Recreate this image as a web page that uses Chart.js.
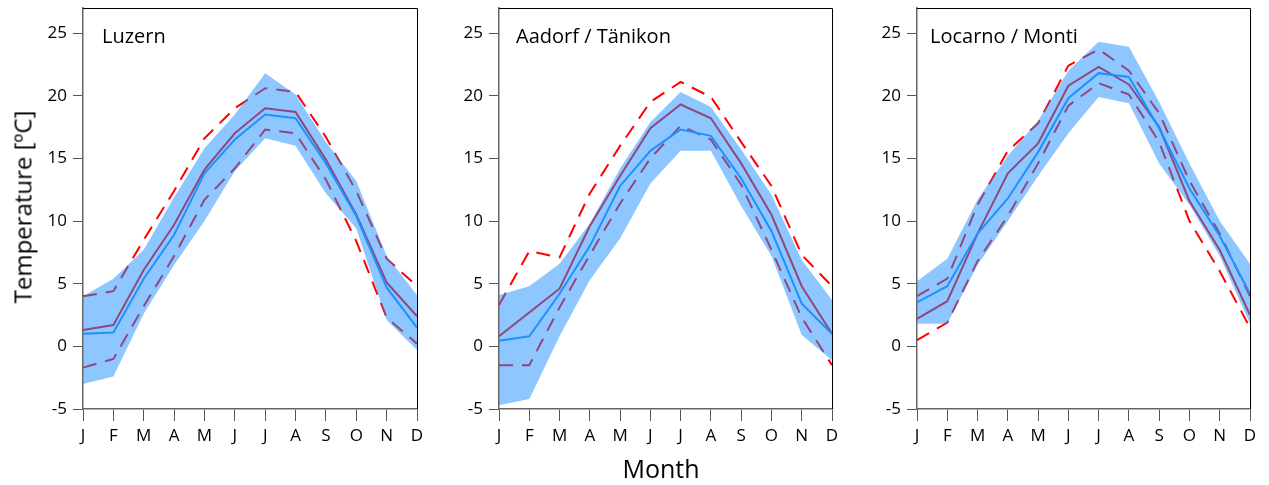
<!DOCTYPE html>
<html>
<head>
<meta charset="utf-8">
<script src="https://cdn.jsdelivr.net/npm/chart.js@4.4.1/dist/chart.umd.min.js"></script>
<style>
  body { margin: 0; background: #fff; width: 1269px; height: 485px; overflow: hidden; font-family: 'Open Sans', sans-serif; }
  canvas { position: absolute; top: 0; }
  #ylabel { position: absolute; left: 22px; top: 207px; transform: translate(-50%, -50%) rotate(-90deg); font-size: 24px; white-space: nowrap; color: #000; }
  #xlabel { position: absolute; left: 661px; top: 451px; transform: translateX(-50%); font-size: 25px; color: #000; }
</style>
</head>
<body>
<canvas id="c1" width="430" height="485" style="left:0px"></canvas>
<canvas id="c2" width="416" height="485" style="left:430px"></canvas>
<canvas id="c3" width="423" height="485" style="left:846px"></canvas>
<div id="ylabel">Temperature [ºC]</div>
<div id="xlabel">Month</div>
<script>
const months = ['J', 'F', 'M', 'A', 'M', 'J', 'J', 'A', 'S', 'O', 'N', 'D'];
const yTicks = [-5, 0, 5, 10, 15, 20, 25];

// Luzern
const luzObsMean = [1.0, 1.1, 5.4, 8.9, 13.8, 16.5, 18.5, 18.2, 14.6, 10.4, 4.7, 1.5];
const luzObsLo = [-3.0, -2.4, 2.6, 6.5, 10.0, 14.0, 16.6, 16.0, 12.2, 9.4, 2.1, -0.3];
const luzObsHi = [4.0, 5.4, 7.7, 11.9, 15.8, 18.5, 21.8, 20.1, 16.3, 13.2, 7.2, 4.1];
const luzModMean = [1.3, 1.7, 6.1, 9.7, 14.1, 17.0, 19.0, 18.7, 14.9, 10.5, 5.1, 2.4];
const luzModLo = [-1.7, -1.0, 3.2, 7.2, 11.7, 14.2, 17.3, 17.0, 13.3, 8.4, 2.3, 0.2];
const luzModHi = [4.0, 4.4, 8.5, 12.4, 16.6, 19.0, 20.6, 20.3, 16.7, 12.4, 7.0, 4.8];

// Aadorf / Tänikon
const aadObsMean = [0.45, 0.8, 4.2, 8.0, 12.8, 15.6, 17.3, 16.8, 13.4, 9.2, 3.4, 1.0];
const aadObsLo = [-4.7, -4.2, 0.8, 5.3, 8.6, 13.0, 15.6, 15.6, 11.2, 7.2, 0.9, -1.1];
const aadObsHi = [4.1, 4.8, 6.6, 9.8, 14.2, 17.9, 20.3, 19.1, 15.7, 12.1, 6.9, 3.7];
const aadModMean = [0.8, 2.7, 4.6, 9.6, 13.6, 17.4, 19.3, 18.2, 14.6, 10.5, 4.8, 1.0];
const aadModLo = [-1.5, -1.5, 3.1, 7.3, 11.4, 15.0, 17.6, 16.5, 12.9, 7.7, 2.3, -1.5];
const aadModHi = [3.3, 7.6, 7.1, 12.2, 16.0, 19.5, 21.1, 19.9, 16.3, 12.8, 7.3, 4.8];

// Locarno / Monti
const locObsMean = [3.5, 4.8, 9.0, 11.8, 15.5, 19.8, 21.8, 21.5, 17.4, 12.6, 8.8, 4.2];
const locObsLo = [1.8, 1.8, 6.5, 10.0, 13.6, 17.0, 19.9, 19.4, 14.6, 11.3, 7.2, 1.8];
const locObsHi = [5.2, 7.0, 11.7, 15.2, 18.0, 22.0, 24.3, 23.9, 19.5, 14.6, 10.0, 6.6];
const locModMean = [2.2, 3.6, 9.0, 13.8, 16.2, 20.8, 22.3, 20.9, 17.5, 11.6, 7.7, 2.5];
const locModLo = [0.5, 1.9, 6.8, 10.4, 14.6, 19.2, 21.0, 20.1, 16.3, 10.0, 6.0, 1.5];
const locModHi = [4.0, 5.4, 11.3, 15.6, 17.8, 22.4, 23.7, 22.0, 18.6, 13.2, 9.0, 4.0];

const FONT = 'Open Sans';
const BAND = 'rgba(30, 144, 255, 0.5)';
const OBS = '#1e90ff';
const MOD = '#ff0000';

// station name inside the plot plus the black top/right frame
const framePlugin = {
  id: 'frame',
  afterDraw(chart, args, opts) {
    const { ctx, chartArea: a } = chart;
    ctx.save();
    ctx.strokeStyle = '#000';
    ctx.lineWidth = 1;
    ctx.beginPath();
    ctx.moveTo(a.left, a.top + 0.5);
    ctx.lineTo(a.right + 0.5, a.top + 0.5);
    ctx.lineTo(a.right + 0.5, a.bottom);
    ctx.stroke();
    ctx.fillStyle = '#000';
    ctx.font = '20px "' + FONT + '"';
    ctx.textBaseline = 'alphabetic';
    ctx.fillText(opts.name, a.left + opts.dx, a.top + 35);
    ctx.restore();
  },
};

function makePanel(id, name, dx, axisW, padRight, obsMean, obsLo, obsHi, modMean, modLo, modHi) {
  const line = { pointRadius: 0, tension: 0, fill: false };
  new Chart(id, {
    type: 'line',
    data: {
      labels: months,
      datasets: [
        { ...line, data: obsMean, borderColor: OBS, borderWidth: 2, order: 0 },
        { ...line, data: obsHi, borderWidth: 0, borderColor: 'transparent', backgroundColor: BAND, fill: '+1', order: 1 },
        { ...line, data: obsLo, borderWidth: 0, borderColor: 'transparent', order: 1 },
        { ...line, data: modMean, borderColor: MOD, borderWidth: 2, order: 2 },
        { ...line, data: modHi, borderColor: MOD, borderWidth: 2, borderDash: [14, 9], order: 2 },
        { ...line, data: modLo, borderColor: MOD, borderWidth: 2, borderDash: [14, 9], order: 2 },
      ],
    },
    options: {
      responsive: false,
      animation: false,
      layout: { padding: { top: 8, right: padRight, bottom: 0, left: 0 } },
      plugins: {
        legend: { display: false },
        tooltip: { enabled: false },
        frame: { name: name, dx: dx },
      },
      scales: {
        x: {
          type: 'category',
          offset: false,
          grid: { drawOnChartArea: false, drawTicks: true, tickLength: 12, color: '#555', offset: false },
          border: { display: true, color: '#666', width: 1.5 },
          ticks: { color: '#000', font: { family: FONT, size: 17 }, padding: 5, maxRotation: 0, autoSkip: false },
          afterFit: (s) => { s.height = 76; s.paddingLeft = 0; s.paddingRight = 0; },
        },
        y: {
          min: -5,
          max: 27,
          afterBuildTicks: (s) => { s.ticks = yTicks.map((v) => ({ value: v })); },
          grid: { drawOnChartArea: false, drawTicks: true, tickLength: 10, color: '#555' },
          border: { display: true, color: '#666', width: 1.5 },
          ticks: { color: '#000', font: { family: FONT, size: 17 }, padding: 6 },
          afterFit: (s) => { s.width = axisW; s.paddingTop = 0; s.paddingBottom = 0; },
        },
      },
    },
    plugins: [framePlugin],
  });
}

makePanel('c1', 'Luzern', 19, 83, 13, luzObsMean, luzObsLo, luzObsHi, luzModMean, luzModLo, luzModHi);
makePanel('c2', 'Aadorf / Tänikon', 17, 69, 14, aadObsMean, aadObsLo, aadObsHi, aadModMean, aadModLo, aadModHi);
makePanel('c3', 'Locarno / Monti', 13, 71, 19, locObsMean, locObsLo, locObsHi, locModMean, locModLo, locModHi);
</script>
</body>
</html>
